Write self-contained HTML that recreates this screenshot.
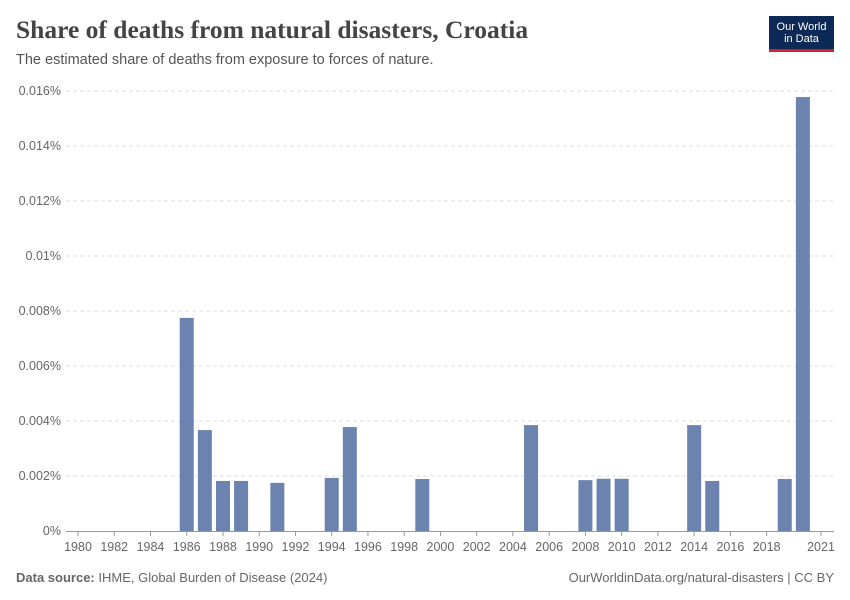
<!DOCTYPE html>
<html><head><meta charset="utf-8"><style>
body{margin:0;width:850px;height:600px;background:#fff;font-family:"Liberation Sans",sans-serif;position:relative;overflow:hidden}
.t{position:absolute;margin:0}
</style></head><body>
<h1 class="t" style="left:16px;top:15px;font-family:'Liberation Serif',serif;font-size:25.5px;font-weight:bold;color:#444">Share of deaths from natural disasters, Croatia</h1>
<p class="t" style="left:16px;top:52px;font-size:14.5px;color:#555">The estimated share of deaths from exposure to forces of nature.</p>
<div style="position:absolute;left:769px;top:16px;width:65px;height:36px;background:#0d2a57;color:#fff;font-size:11px;line-height:12px;text-align:center;padding-top:5px;box-sizing:border-box;border-bottom:3px solid #cf2131">Our World<br>in Data</div>
<svg id="c" width="850" height="600" style="position:absolute;left:0;top:0"></svg>
<p class="t" style="left:16px;top:570px;font-size:13px;color:#666"><b>Data source:</b> IHME, Global Burden of Disease (2024)</p>
<p class="t" style="right:16px;top:570px;font-size:13px;color:#666">OurWorldinData.org/natural-disasters | CC BY</p>
<script>
const years=[1986,1987,1988,1989,1991,1994,1995,1999,2005,2008,2009,2010,2014,2015,2019,2020];
const values=[0.00775,0.00367,0.00182,0.00182,0.00175,0.00193,0.00378,0.00189,0.00385,0.00185,0.0019,0.0019,0.00385,0.00182,0.00189,0.01578];
const yTicks=[0,0.002,0.004,0.006,0.008,0.01,0.012,0.014,0.016];
const yLabels=["0%","0.002%","0.004%","0.006%","0.008%","0.01%","0.012%","0.014%","0.016%"];
const xTicks=[1980,1982,1984,1986,1988,1990,1992,1994,1996,1998,2000,2002,2004,2006,2008,2010,2012,2014,2016,2018,2021];
const svg=document.getElementById('c'),NS='http://www.w3.org/2000/svg';
const x=v=>78+(v-1980)*(821-78)/41, y=v=>531-v*(440/0.016);
function mk(t,a,txt){const e=document.createElementNS(NS,t);for(const k in a)e.setAttribute(k,a[k]);if(txt!=null)e.textContent=txt;svg.appendChild(e);return e;}
yTicks.forEach((v,i)=>{
 if(i>0){const g=mk('line',{x1:66,x2:834,y1:y(v),y2:y(v),stroke:'#ddd','stroke-dasharray':'4,3'});
 
 }
 const l=mk('text',{x:61,y:y(v)+4,'text-anchor':'end','font-size':12.5,fill:'#666','font-family':'Liberation Sans'},yLabels[i]);
 
 
});
const ax=mk('line',{x1:66,x2:834,y1:531.5,y2:531.5,stroke:'#999'});


xTicks.forEach(v=>{
 const t=mk('line',{x1:x(v),x2:x(v),y1:531,y2:536,stroke:'#999'});
 
 
 const l=mk('text',{x:x(v),y:551,'text-anchor':'middle','font-size':12.5,fill:'#666','font-family':'Liberation Sans'},v);
 
 
});
years.forEach((yr,i)=>{
 const b=mk('rect',{x:x(yr)-7,y:y(values[i]),width:14,height:531-y(values[i]),fill:'#6b83ae'});
 
 
});
</script>
</body></html>
